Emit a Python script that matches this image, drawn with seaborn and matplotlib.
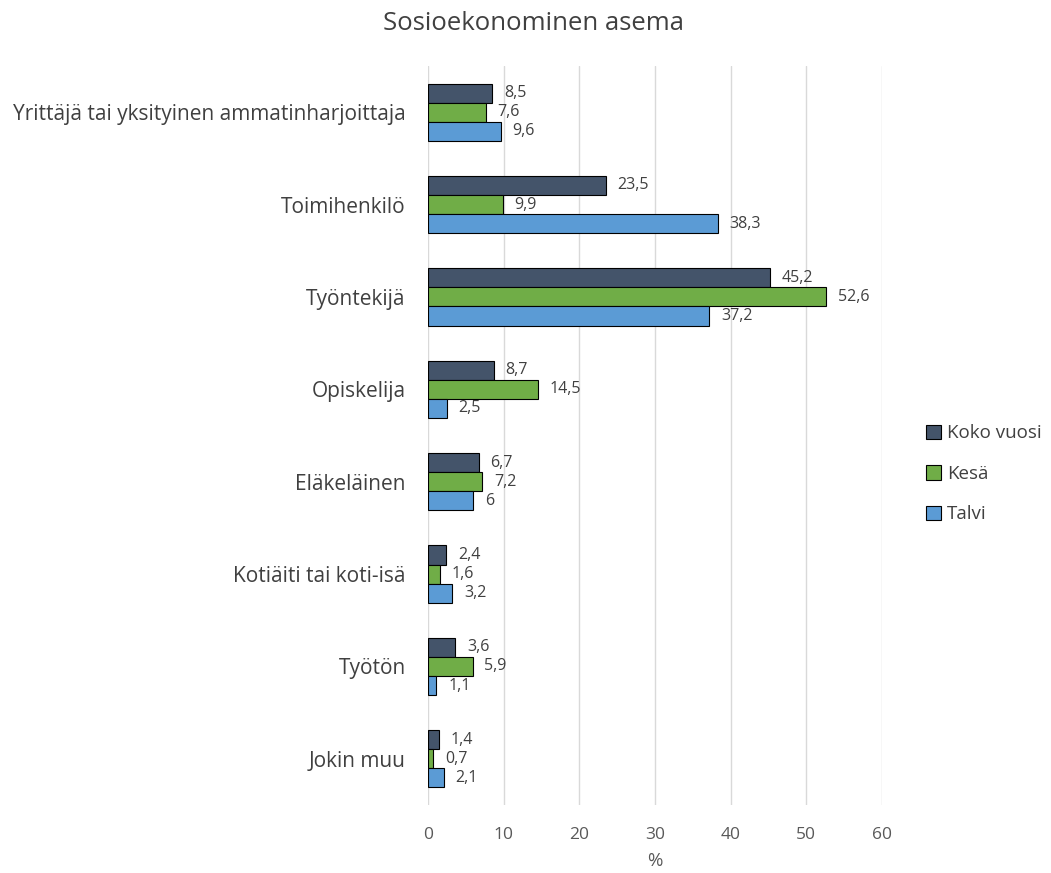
import matplotlib
matplotlib.use("Agg")
import matplotlib.pyplot as plt
import seaborn as sns
import pandas as pd

categories = [
    "Yrittäjä tai yksityinen ammatinharjoittaja",
    "Toimihenkilö",
    "Työntekijä",
    "Opiskelija",
    "Eläkeläinen",
    "Kotiäiti tai koti-isä",
    "Työtön",
    "Jokin muu",
]
series_names = ["Koko vuosi", "Kesä", "Talvi"]
koko_vuosi = [8.5, 23.5, 45.2, 8.7, 6.7, 2.4, 3.6, 1.4]
kesa = [7.6, 9.9, 52.6, 14.5, 7.2, 1.6, 5.9, 0.7]
talvi = [9.6, 38.3, 37.2, 2.5, 6.0, 3.2, 1.1, 2.1]
x_ticks = [0, 10, 20, 30, 40, 50, 60]

colors = ["#44546A", "#70AD47", "#5B9BD5"]
text_grey = "#595959"

rows = []
for name, vals in zip(series_names, [koko_vuosi, kesa, talvi]):
    for cat, v in zip(categories, vals):
        rows.append({"Asema": cat, "Sarja": name, "Arvo": v})
df = pd.DataFrame(rows)

sns.set_theme(style="white")
plt.rcParams["font.family"] = ["Open Sans", "DejaVu Sans"]

fig = plt.figure(figsize=(10.51, 8.73), dpi=100)
ax = fig.add_axes([428 / 1051, 1 - 805 / 873, (882 - 428) / 1051, (805 - 66) / 873])

sns.barplot(
    data=df, x="Arvo", y="Asema", hue="Sarja", order=categories,
    hue_order=series_names, palette=colors, orient="h", width=0.62,
    edgecolor="black", linewidth=0.8, saturation=1, ax=ax, legend=True,
)

for container, vals in zip(ax.containers, [koko_vuosi, kesa, talvi]):
    labels = [f"{v:g}".replace(".", ",") for v in vals]
    ax.bar_label(container, labels=labels, padding=8.5, fontsize=11.5, color="#404040")

ax.set_xlim(0, 60)
ax.set_xticks(x_ticks)
ax.xaxis.grid(True, color="#D9D9D9", linewidth=1)
ax.yaxis.grid(False)
ax.set_axisbelow(True)
for s in ax.spines.values():
    s.set_visible(False)
ax.tick_params(axis="x", length=0, pad=16, labelsize=12.5, labelcolor=text_grey)
ax.tick_params(axis="y", length=0, pad=16, labelsize=15, labelcolor="#404040")
ax.set_ylabel("")
ax.set_xlabel("%", fontsize=13.5, color=text_grey, labelpad=6)

leg = ax.legend(
    loc="center left", bbox_to_anchor=(1.06, 0.448), frameon=False,
    fontsize=13.5, handlelength=0.8, handleheight=0.8, handletextpad=0.3,
    labelspacing=1.2, labelcolor="#404040",
)
for h in leg.legend_handles:
    h.set_edgecolor("black")
    h.set_linewidth(0.8)

fig.text(0.508, 0.973, "Sosioekonominen asema", ha="center", va="center",
         fontsize=18.5, color="#404040")

fig.savefig("out.png", dpi=100)
